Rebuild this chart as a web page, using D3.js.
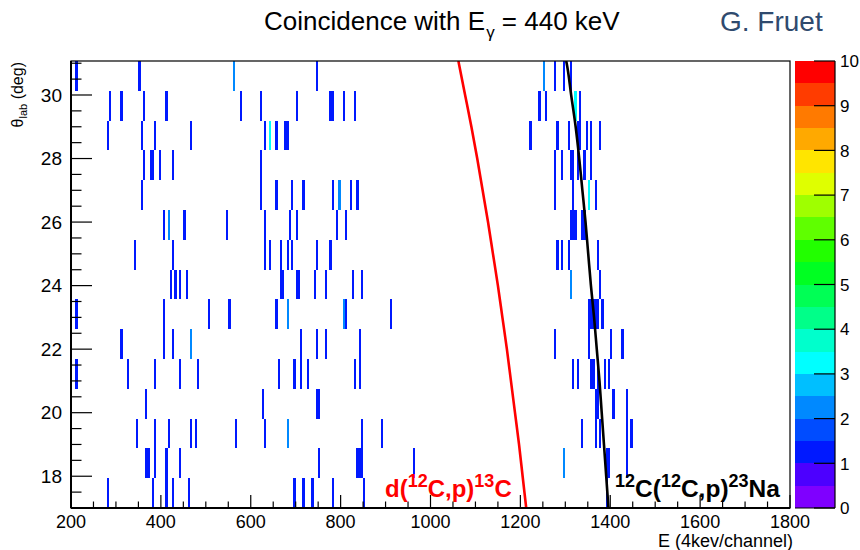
<!DOCTYPE html>
<html>
<head>
<meta charset="utf-8">
<script src="https://cdn.jsdelivr.net/npm/d3@7"></script>
<style>
  body { margin: 0; background: #fff; }
  svg { display: block; }
  text { font-family: "Liberation Sans", Arial, Helvetica, sans-serif; }
</style>
</head>
<body>
<svg id="chart" width="860" height="550"></svg>
<script>
// Axis ranges and binning of the 2D histogram
const energyRange = [200, 1800];
const thetaRange = [17, 31.07];
const thetaBinCount = 15;
const energyBinWidth = 5;

const xTickValues = [200, 400, 600, 800, 1000, 1200, 1400, 1600, 1800];
const yTickValues = [18, 20, 22, 24, 26, 28, 30];
const zTickValues = [0, 1, 2, 3, 4, 5, 6, 7, 8, 9, 10];
const zRange = [0, 10];

// 20-level rainbow palette for the z axis (bottom to top)
const paletteColors = [
  "#7f00ff", "#4c00ff", "#0019ff", "#004cff", "#0089ff",
  "#00bfff", "#00ffff", "#00ffcc", "#00ff89", "#00ff55",
  "#00ff22", "#22ff00", "#5fff00", "#9fff00", "#dfff00",
  "#ffe500", "#ffa900", "#ff7a00", "#ff3c00", "#ff0000"
];

// Energies of cells holding one count, listed per theta bin (bin 0 = lowest angle)
const singleHits = [
  [281, 382, 410, 427, 463, 697, 718, 736, 781, 853, 1392],
  [367, 373, 389, 410, 444, 752, 836, 841, 846, 961, 1390, 1395, 1439],
  [346, 389, 417, 469, 478, 569, 634, 849, 891, 1339, 1368, 1379, 1439, 1449],
  [368, 625, 748, 753, 1368, 1373, 1408, 1438],
  [213, 327, 385, 444, 483, 661, 696, 710, 729, 833, 840, 1316, 1327, 1356, 1364, 1371, 1388, 1395],
  [313, 407, 429, 714, 745, 769, 841, 1277, 1353, 1403, 1429],
  [213, 409, 505, 554, 658, 811, 910, 1352, 1357, 1362, 1368, 1373, 1382],
  [422, 433, 442, 458, 665, 674, 701, 706, 740, 769, 825, 845, 1379],
  [342, 429, 634, 640, 665, 680, 693, 745, 776, 1283, 1292, 1308, 1372],
  [407, 450, 545, 630, 689, 701, 793, 810, 1311, 1316, 1321, 1336, 1341],
  [358, 621, 659, 693, 716, 780, 821, 837, 1277, 1316, 1368],
  [362, 376, 381, 398, 429, 621, 1277, 1292, 1312, 1318, 1325, 1344, 1358],
  [282, 358, 385, 465, 634, 659, 676, 681, 1224, 1283, 1308, 1326, 1331, 1347, 1356, 1375],
  [288, 313, 362, 413, 578, 620, 700, 775, 780, 805, 830, 1241, 1256, 1333],
  [213, 353, 745, 1277, 1299, 1312]
];

// Cells with two counts: [energy, theta bin]
const doubleHits = [
  [1296, 1], [680, 2], [465, 5], [684, 6], [805, 6],
  [1312, 7], [417, 9], [795, 10], [560, 14], [1252, 14]
];

// Cells with three counts: [energy, theta bin]
const tripleHits = [
  [1352, 10], [640, 12], [1321, 13]
];

// Kinematic curves: energy versus laboratory angle
const curveTheta = [17, 18, 19, 20, 21, 22, 23, 24, 25, 26, 27, 28, 29, 30, 31, 31.07];
const carbon13Energy = [1213, 1205, 1197, 1188, 1179, 1170, 1160, 1150, 1139, 1128, 1116, 1104, 1091, 1077, 1063, 1062];
const sodium23Energy = [1396, 1391, 1386, 1381, 1376, 1370, 1364, 1357, 1351, 1345, 1338, 1331, 1323, 1313, 1303, 1302];

const svg = d3.select("#chart");
const plot = { left: 71, right: 790, top: 61, bottom: 508 };
const bar = { left: 795, right: 835 };

const x = d3.scaleLinear().domain(energyRange).range([plot.left, plot.right]);
const y = d3.scaleLinear().domain(thetaRange).range([plot.bottom, plot.top]);
const z = d3.scaleLinear().domain(zRange).range([plot.bottom, plot.top]);
const thetaStep = (thetaRange[1] - thetaRange[0]) / thetaBinCount;

function colorFor(count) {
  const level = Math.min(paletteColors.length - 1,
    Math.floor((count - zRange[0]) / (zRange[1] - zRange[0]) * paletteColors.length));
  return paletteColors[level];
}

const cells = [];
singleHits.forEach((row, bin) => row.forEach(e => cells.push({ e, bin, count: 1 })));
doubleHits.forEach(([e, bin]) => cells.push({ e, bin, count: 2 }));
tripleHits.forEach(([e, bin]) => cells.push({ e, bin, count: 3 }));

// Histogram cells
const g = svg.append("g");
g.selectAll("rect.cell").data(cells).join("rect")
  .attr("class", "cell")
  .attr("x", d => x(energyRange[0] + Math.floor((d.e - energyRange[0]) / energyBinWidth) * energyBinWidth))
  .attr("width", x(energyRange[0] + energyBinWidth) - x(energyRange[0]))
  .attr("y", d => y(thetaRange[0] + (d.bin + 1) * thetaStep))
  .attr("height", d => y(thetaRange[0] + d.bin * thetaStep) - y(thetaRange[0] + (d.bin + 1) * thetaStep))
  .attr("fill", d => colorFor(d.count))
  .attr("shape-rendering", "crispEdges");

// Kinematic curves, clipped to the frame
svg.append("clipPath").attr("id", "frameClip").append("rect")
  .attr("x", plot.left).attr("y", plot.top)
  .attr("width", plot.right - plot.left).attr("height", plot.bottom - plot.top);

const curve = d3.line().curve(d3.curveMonotoneY);
const redPts = curveTheta.map((t, i) => [x(carbon13Energy[i]), y(t)]);
const blackPts = curveTheta.map((t, i) => [x(sodium23Energy[i]), y(t)]);
svg.append("path").attr("d", curve(redPts)).attr("clip-path", "url(#frameClip)")
  .attr("fill", "none").attr("stroke", "#ff0000").attr("stroke-width", 2.6);
svg.append("path").attr("d", curve(blackPts)).attr("clip-path", "url(#frameClip)")
  .attr("fill", "none").attr("stroke", "#000").attr("stroke-width", 2.6);

// Frame
svg.append("rect")
  .attr("x", plot.left).attr("y", plot.top)
  .attr("width", plot.right - plot.left).attr("height", plot.bottom - plot.top)
  .attr("fill", "none").attr("stroke", "#000").attr("stroke-width", 1.2);

// X axis: major every 200, minor every 50, ticks pointing inward
const xAxis = svg.append("g");
const xMinor = d3.range(energyRange[0], energyRange[1] + 1, 50);
xAxis.selectAll("line.minor").data(xMinor).join("line")
  .attr("x1", d => x(d)).attr("x2", d => x(d))
  .attr("y1", plot.bottom).attr("y2", d => plot.bottom - (xTickValues.includes(d) ? 13 : 6.5))
  .attr("stroke", "#000").attr("stroke-width", 1.2);
xAxis.append("line").attr("x1", plot.left).attr("x2", plot.right)
  .attr("y1", plot.bottom).attr("y2", plot.bottom).attr("stroke", "#000").attr("stroke-width", 2);
xAxis.selectAll("text").data(xTickValues).join("text")
  .attr("x", d => x(d)).attr("y", 528).attr("text-anchor", "middle")
  .attr("font-size", 18).text(d => d);

// Y axis: major every 2, minor every 0.5
const yAxis = svg.append("g");
const yMinor = d3.range(17, 31.01, 0.5);
yAxis.selectAll("line").data(yMinor).join("line")
  .attr("y1", d => y(d)).attr("y2", d => y(d))
  .attr("x1", plot.left).attr("x2", d => plot.left + (yTickValues.includes(d) ? 21 : 10.5))
  .attr("stroke", "#000").attr("stroke-width", 1.2);
yAxis.append("line").attr("x1", plot.left).attr("x2", plot.left)
  .attr("y1", plot.top).attr("y2", plot.bottom).attr("stroke", "#000").attr("stroke-width", 2);
yAxis.selectAll("text").data(yTickValues).join("text")
  .attr("x", 62).attr("y", d => y(d) + 6.8).attr("text-anchor", "end")
  .attr("font-size", 19).text(d => d);

// Axis titles
svg.append("text").attr("x", 793).attr("y", 547)
  .attr("text-anchor", "end").attr("font-size", 18)
  .text("E (4kev/channel)");

const yTitle = svg.append("text")
  .attr("transform", "translate(23,62) rotate(-90)")
  .attr("text-anchor", "end").attr("font-size", 16);
yTitle.append("tspan").text("θ");
yTitle.append("tspan").attr("font-size", 11).attr("dy", 4).text("lab");
yTitle.append("tspan").attr("dy", -4).text(" (deg)");

// Palette (z axis)
const bandH = (zRange[1] - zRange[0]) / paletteColors.length;
svg.append("g").selectAll("rect").data(paletteColors).join("rect")
  .attr("x", bar.left).attr("width", bar.right - bar.left)
  .attr("y", (c, i) => z(zRange[0] + (i + 1) * bandH))
  .attr("height", (c, i) => z(zRange[0] + i * bandH) - z(zRange[0] + (i + 1) * bandH))
  .attr("fill", c => c).attr("shape-rendering", "crispEdges");
svg.append("line").attr("x1", bar.right).attr("x2", bar.right)
  .attr("y1", plot.top).attr("y2", plot.bottom).attr("stroke", "#000").attr("stroke-width", 1.2);
svg.append("line").attr("x1", bar.left).attr("x2", bar.right)
  .attr("y1", plot.bottom).attr("y2", plot.bottom).attr("stroke", "#000").attr("stroke-width", 1.2);
const zAxis = svg.append("g");
zAxis.selectAll("line").data(zTickValues).join("line")
  .attr("x1", bar.right).attr("x2", bar.right - 21)
  .attr("y1", d => z(d)).attr("y2", d => z(d))
  .attr("stroke", "#000").attr("stroke-width", 1.2);
zAxis.selectAll("text").data(zTickValues).join("text")
  .attr("x", 840).attr("y", d => z(d) + 6.2)
  .attr("font-size", 17).text(d => d);

// Curve labels
function reactionLabel(xPos, yPos, color, size, parts) {
  const t = svg.append("text").attr("x", xPos).attr("y", yPos)
    .attr("font-size", size).attr("font-weight", "bold").attr("fill", color);
  let raised = false;
  parts.forEach(([s, sup]) => {
    const ts = t.append("tspan").text(s);
    if (sup && !raised) { ts.attr("dy", -10).attr("font-size", 18); raised = true; }
    else if (!sup && raised) { ts.attr("dy", 10); raised = false; }
  });
}
reactionLabel(385, 497, "#ff0000", 24, [["d(", 0], ["12", 1], ["C,p)", 0], ["13", 1], ["C", 0]]);
reactionLabel(615, 497, "#000", 24.5, [["12", 1], ["C(", 0], ["12", 1], ["C,p)", 0], ["23", 1], ["Na", 0]]);

// Title and author
const title = svg.append("text").attr("x", 264).attr("y", 30).attr("font-size", 26);
title.append("tspan").text("Coincidence with E");
title.append("tspan").attr("font-size", 17).attr("dy", 8).attr("dx", 1).text("γ");
title.append("tspan").attr("dy", -8).text(" = 440 keV");

svg.append("text").attr("x", 720).attr("y", 31).attr("font-size", 28)
  .attr("fill", "#2f4a6e").text("G. Fruet");
</script>
</body>
</html>
